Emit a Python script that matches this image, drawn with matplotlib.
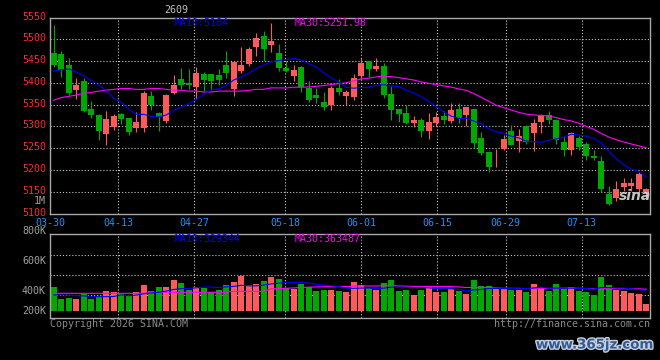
import numpy as np
import pandas as pd
import matplotlib.pyplot as plt
import matplotlib.patheffects as pe
import matplotlib.transforms as mtransforms

# daily bars, 03-30 .. 07-24 (80 trading days)
opens = [5469, 5466, 5441, 5384, 5404, 5340, 5326, 5283, 5299, 5328,
         5319, 5297, 5297, 5370, 5331, 5312, 5377, 5409, 5400, 5390,
         5420, 5420, 5418, 5441, 5386, 5427, 5444, 5482, 5508, 5487,
         5469, 5433, 5416, 5436, 5388, 5371, 5356, 5348, 5388, 5370,
         5367, 5416, 5450, 5432, 5439, 5374, 5340, 5331, 5308, 5315,
         5289, 5308, 5324, 5312, 5340, 5326, 5340, 5273, 5241, 5218,
         5248, 5289, 5266, 5301, 5285, 5310, 5326, 5315, 5264, 5246,
         5273, 5260, 5232, 5221, 5145, 5136, 5161, 5163, 5156, 5149]
highs = [5533, 5473, 5458, 5412, 5410, 5358, 5328, 5335, 5328, 5330,
         5320, 5332, 5381, 5381, 5333, 5374, 5418, 5434, 5432, 5437,
         5426, 5421, 5432, 5473, 5450, 5482, 5482, 5514, 5519, 5537,
         5489, 5451, 5441, 5439, 5404, 5388, 5379, 5393, 5409, 5384,
         5420, 5456, 5450, 5456, 5446, 5393, 5341, 5349, 5324, 5319,
         5331, 5333, 5335, 5354, 5354, 5345, 5341, 5287, 5244, 5248,
         5280, 5303, 5294, 5303, 5317, 5328, 5335, 5316, 5278, 5287,
         5278, 5264, 5246, 5232, 5163, 5175, 5182, 5182, 5195, 5159]
lows = [5436, 5414, 5372, 5363, 5332, 5320, 5269, 5257, 5292, 5306,
        5280, 5288, 5288, 5338, 5289, 5308, 5374, 5386, 5386, 5362,
        5381, 5384, 5395, 5410, 5370, 5422, 5439, 5462, 5449, 5470,
        5427, 5424, 5404, 5379, 5357, 5353, 5338, 5338, 5372, 5349,
        5361, 5409, 5414, 5427, 5366, 5315, 5309, 5305, 5299, 5276,
        5271, 5301, 5306, 5308, 5308, 5301, 5250, 5235, 5196, 5207,
        5246, 5257, 5241, 5260, 5244, 5285, 5306, 5260, 5232, 5234,
        5246, 5223, 5223, 5149, 5120, 5129, 5152, 5152, 5150, 5136]
closes = [5441, 5429, 5377, 5395, 5335, 5326, 5290, 5317, 5324, 5317,
          5286, 5309, 5377, 5349, 5321, 5372, 5395, 5394, 5395, 5423,
          5406, 5404, 5407, 5422, 5448, 5441, 5478, 5503, 5478, 5496,
          5434, 5428, 5429, 5390, 5361, 5366, 5345, 5388, 5379, 5379,
          5411, 5446, 5432, 5439, 5372, 5338, 5328, 5308, 5315, 5289,
          5310, 5322, 5315, 5338, 5319, 5345, 5262, 5240, 5207, 5219,
          5271, 5257, 5278, 5264, 5308, 5326, 5315, 5269, 5246, 5285,
          5253, 5232, 5228, 5156, 5122, 5156, 5170, 5170, 5191, 5156]
# volume, thousands
volume = [401, 198, 215, 198, 283, 198, 249, 334, 317, 283,
          249, 317, 435, 334, 401, 401, 520, 469, 350, 401,
          384, 317, 350, 435, 486, 587, 435, 452, 503, 571,
          537, 384, 367, 452, 401, 334, 350, 350, 334, 317,
          486, 435, 384, 350, 469, 520, 334, 350, 266, 350,
          418, 317, 317, 367, 334, 283, 520, 418, 418, 367,
          384, 350, 350, 317, 452, 401, 334, 452, 384, 401,
          334, 317, 266, 571, 435, 350, 334, 300, 283, 113]

# moving averages before enough bars are in view
ma10_head = [5427, 5430, 5432, 5425, 5416, 5405, 5395, 5382, 5364]
ma30_head = [5360, 5366, 5369, 5372, 5376, 5378, 5381, 5383, 5385, 5387,
             5387, 5385, 5385, 5387, 5387, 5385, 5383, 5383, 5381, 5381,
             5379, 5379, 5381, 5381, 5381, 5381, 5383, 5385, 5385]
vma10_head = [266, 266, 262, 255, 250, 240, 237, 237, 240]
vma30_head = [294, 294, 294, 294, 294, 294, 294, 294, 294, 294,
              294, 294, 294, 311, 311, 311, 311, 311, 311, 311,
              311, 311, 311, 311, 328, 328, 328, 328, 328]

date_labels = ['03-30', '04-13', '04-27', '05-18', '06-01', '06-15', '06-29', '07-13']
date_index = [0, 9, 19, 31, 41, 51, 60, 70]

RED = '#ff5a5a'
GREEN = '#00a800'
GRID = '#c8c8c8'
FRAME = '#a8a8a8'
MONO = 'DejaVu Sans Mono'


def moving(vals, n, head):
    m = pd.Series(vals, dtype=float).rolling(n).mean().to_numpy()
    m[:len(head)] = head
    return m


W, H = 660, 360
fig = plt.figure(figsize=(6.6, 3.6), dpi=100, facecolor='black')


def box(l, t, r, b):
    return [l / W, 1 - b / H, (r - l) / W, (b - t) / H]


def ftext(x, y, s, **kw):
    fig.text(x / W, 1 - y / H, s, family=MONO, fontsize=7.2, va='center', **kw)


ax = fig.add_axes(box(50, 17.5, 650, 213.5), facecolor='black')
axv = fig.add_axes(box(50, 234.3, 650, 318.3), facecolor='black')

x = np.arange(len(closes))
o, h, l, c = map(np.array, (opens, highs, lows, closes))
cols = np.where(c >= o, RED, GREEN)
n = len(x)
grid_x = [-0.5 + d * n / (n - 1) for d in date_index]

# price panel
for yv in range(5150, 5501, 50):
    ax.axhline(yv, color=GRID, lw=0.8, ls=(0, (1, 1.8)), zorder=0)
for gx in grid_x[1:]:
    ax.axvline(gx, color=GRID, lw=0.8, ls=(0, (1, 1.8)), zorder=0)
ax.vlines(x, l, h, colors=cols, lw=0.8, zorder=2)
ax.bar(x, np.maximum(np.abs(c - o), 1.2), bottom=np.minimum(o, c), width=0.8,
       color=cols, lw=0, zorder=3)
ax.plot(x, moving(closes, 30, ma30_head), color='#ff00ff', lw=0.8, zorder=4)
ax.plot(x, moving(closes, 10, ma10_head), color='#0000ff', lw=0.8, zorder=4)
ax.set_xlim(-0.5, n - 0.5)
ax.set_ylim(5100, 5550)
ax.set_xticks([])
ax.set_yticks(range(5100, 5551, 50))
ax.tick_params(axis='y', length=0, pad=3, labelcolor='#ff2a2a', labelsize=7.2)
lift = mtransforms.ScaledTranslation(0, 2 / 100, fig.dpi_scale_trans)
for t in ax.get_yticklabels():
    t.set_family(MONO)
    t.set_transform(t.get_transform() + lift)

# volume panel
vx = np.array(volume)
for yv in (943, 604, 266):
    axv.axhline(yv, color=GRID, lw=0.8, ls=(0, (1, 1.8)), zorder=0)
for gx in grid_x[1:]:
    axv.axvline(gx, color=GRID, lw=0.8, ls=(0, (1, 1.8)), zorder=0)
axv.bar(x, vx, width=0.8, color=cols, lw=0, zorder=2)
axv.plot(x, moving(volume, 30, vma30_head), color='#ff00ff', lw=0.8, zorder=4)
axv.plot(x, moving(volume, 10, vma10_head), color='#0000ff', lw=0.8, zorder=4)
axv.set_xlim(-0.5, n - 0.5)
axv.set_ylim(-129, 1293)
axv.set_xticks([])
axv.set_yticks([])

for a in (ax, axv):
    for s in a.spines.values():
        s.set_color(FRAME)
        s.set_linewidth(1)

# date labels
for lab, gx in zip(date_labels, grid_x):
    px = 50 + (gx + 0.5) * 600 / n
    ftext(px, 222.5, lab, color='#1e90ff', ha='center')

# volume scale labels and stray "1M"
for lab, py in (('800K', 231), ('600K', 260.7), ('400K', 290.7), ('200K', 310.7)):
    ftext(46, py, lab, color='#a0a0a0', ha='right')
ftext(46, 201, '1M', color='#a0a0a0', ha='right')

# legends
ftext(175, 23.5, 'MA10:5184', color='#0000ff')
ftext(295, 23.5, 'MA30:5251.98', color='#ff00ff')
ftext(175, 238.5, 'MA10:329344', color='#0000ff')
ftext(295, 238.5, 'MA30:363487', color='#ff00ff')
ftext(176, 10, '2609', color='#c0c0c0', ha='center')

ftext(50, 323.7, 'Copyright 2026 SINA.COM', color='#8a8a8a')
ftext(650, 323.7, 'http://finance.sina.com.cn', color='#8a8a8a', ha='right')

fig.text(635 / W, 1 - 196 / H, 'sina', fontsize=10, fontweight='bold', style='italic',
         color='#e8e8e8', ha='center', va='center', alpha=0.85)
fig.text(595 / W, 1 - 345 / H, 'www.365jz.com', fontsize=9.6, fontweight='bold',
         color='#2f5a96', ha='center', va='center',
         path_effects=[pe.withStroke(linewidth=2, foreground='#c8d0dc')])

fig.savefig('out.png', dpi=100, facecolor='black')
